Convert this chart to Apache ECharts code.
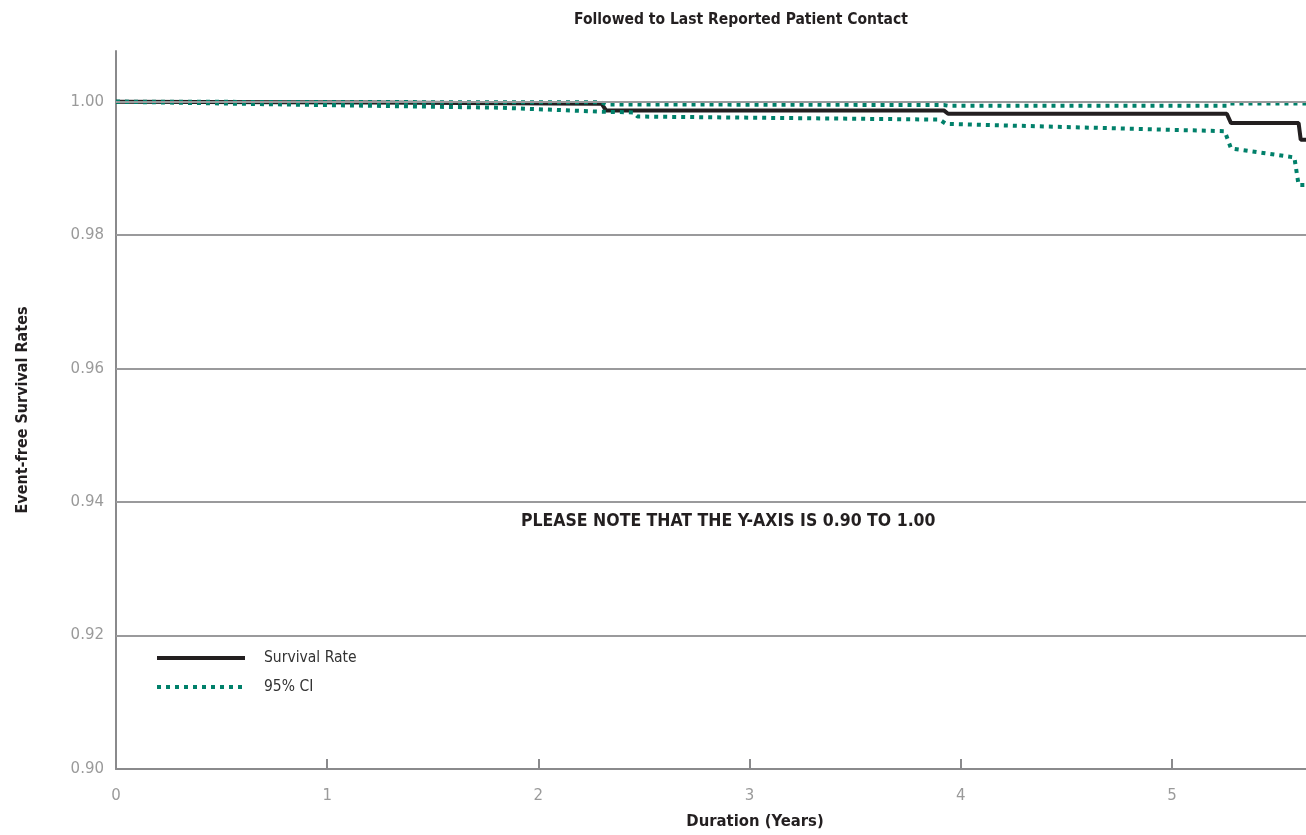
<!DOCTYPE html>
<html lang="en">
<head>
    <meta charset="UTF-8">
    <title>Event-free Survival</title>
    <script src="https://cdn.jsdelivr.net/npm/echarts@6/dist/echarts.min.js"></script>
</head>
<body style="margin: 0; background: #fff;">
<div id="container" style="width: 1306px; height: 835px;"></div>
<script type="text/javascript">

    // data
    let yTicks = [0.90, 0.92, 0.94, 0.96, 0.98, 1.00];
    let xTicks = [0, 1, 2, 3, 4, 5];

    let survivalYears = [0, 1.20, 2.30, 2.32, 3.92, 3.94, 5.26, 5.28, 5.60, 5.61, 5.64];
    let survivalValues = [1.0000, 0.9999, 0.9997, 0.9987, 0.9987, 0.9982, 0.9982, 0.9968, 0.9968, 0.9943, 0.9943];

    let upperYears = [0, 2.30, 2.32, 3.92, 3.94, 5.26, 5.27, 5.64];
    let upperValues = [1.0000, 0.9999, 0.9996, 0.9995, 0.9994, 0.9994, 0.99975, 0.99975];

    let lowerYears = [0, 0.87, 1.82, 2.30, 2.45, 2.47, 3.90, 3.93, 5.25, 5.28, 5.58, 5.60, 5.64];
    let lowerValues = [1.0000, 0.99955, 0.9991, 0.9985, 0.9984, 0.99778, 0.99732, 0.99668, 0.99558, 0.9930, 0.99165, 0.9875, 0.9875];

    function pairs(xs, ys) {
        return xs.map(function (x, i) { return [x, ys[i]]; });
    }

    let font = '"Liberation Sans Narrow", "DejaVu Sans Condensed", sans-serif';
    let green = '#00806a';

    let dom = document.getElementById("container");
    let myChart = echarts.init(dom);

    let option = {
        animation: false,
        title: {
            text: 'Followed to Last Reported Patient Contact',
            left: 736,
            textAlign: 'center',
            top: 7,
            textStyle: {fontFamily: font, fontSize: 15.5, fontWeight: 'bold', color: '#231f20'}
        },
        grid: {left: 116, top: 51, right: 0, bottom: 61, containLabel: false},
        legend: {
            left: 150,
            top: 645,
            orient: 'vertical',
            itemWidth: 88,
            itemHeight: 14,
            itemGap: 13,
            itemStyle: {opacity: 0},
            lineStyle: {width: 4},
            textStyle: {fontFamily: font, fontSize: 15.5, color: '#333', padding: [0, 0, 0, 14]},
            data: ['Survival Rate', '95% CI']
        },
        graphic: [{
            type: 'text',
            left: 521,
            top: 512,
            style: {
                text: 'PLEASE NOTE THAT THE Y-AXIS IS 0.90 TO 1.00',
                font: 'bold 17.5px ' + font,
                fill: '#231f20'
            }
        }],
        xAxis: {
            type: 'value',
            min: 0,
            max: 5.635,
            interval: 1,
            name: 'Duration (Years)',
            nameLocation: 'middle',
            nameGap: 44,
            nameTextStyle: {fontFamily: font, fontSize: 16.5, fontWeight: 'bold', color: '#231f20', padding: [0, 0, 0, 88]},
            axisLine: {lineStyle: {color: '#8a8a8c', width: 2}},
            axisTick: {show: true, inside: true, length: 10, lineStyle: {color: '#8a8a8c', width: 2}},
            axisLabel: {
                margin: 20,
                fontFamily: 'DejaVu Sans',
                fontSize: 15,
                color: '#9a9a9a',
                showMaxLabel: false,
                formatter: function (v) {
                    return xTicks.indexOf(v) >= 0 ? String(v) : '';
                }
            },
            splitLine: {show: false}
        },
        yAxis: {
            type: 'value',
            min: 0.90,
            max: 1.0076,
            interval: 0.02,
            name: 'Event-free Survival Rates',
            nameLocation: 'middle',
            nameGap: 85,
            nameTextStyle: {fontFamily: font, fontSize: 16, fontWeight: 'bold', color: '#231f20'},
            axisLine: {show: true, lineStyle: {color: '#8a8a8c', width: 2}},
            axisTick: {show: false},
            axisLabel: {
                margin: 12,
                fontFamily: 'DejaVu Sans',
                fontSize: 15,
                color: '#9a9a9a',
                showMaxLabel: false,
                formatter: function (v) {
                    for (let t of yTicks) {
                        if (Math.abs(t - v) < 1e-6) return t.toFixed(2);
                    }
                    return '';
                }
            },
            splitLine: {show: false}
        },
        series: [{
            // horizontal grid lines at the labelled ticks
            type: 'line',
            name: 'grid',
            data: [],
            silent: true,
            markLine: {
                silent: true,
                symbol: 'none',
                label: {show: false},
                lineStyle: {color: '#9a9a9c', width: 2, type: 'solid'},
                data: yTicks.slice(1).map(function (t) { return {yAxis: t}; })
            }
        }, {
            type: 'line',
            name: '95% CI',
            data: pairs(upperYears, upperValues),
            symbol: 'none',
            lineStyle: {color: green, width: 4, type: [4, 5]},
            itemStyle: {color: green},
            z: 3
        }, {
            type: 'line',
            name: '95% CI',
            data: pairs(lowerYears, lowerValues),
            symbol: 'none',
            lineStyle: {color: green, width: 4, type: [4, 5]},
            itemStyle: {color: green},
            z: 3
        }, {
            type: 'line',
            name: 'Survival Rate',
            data: pairs(survivalYears, survivalValues),
            symbol: 'none',
            lineStyle: {color: '#231f20', width: 4},
            itemStyle: {color: '#231f20'},
            z: 2
        }]
    };
    myChart.setOption(option);

</script>
</body>
</html>
